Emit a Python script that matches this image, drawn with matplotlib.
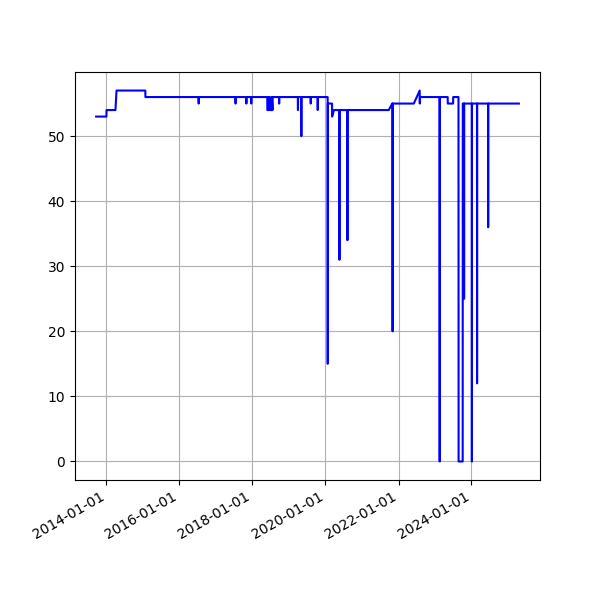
import matplotlib
matplotlib.use('Agg')
import matplotlib.pyplot as plt
import matplotlib.dates as mdates
import pandas as pd

# 日期与数值
dates = [
    '2013-09-20', '2014-01-01', '2014-01-02', '2014-04-01', '2014-04-12',
    '2015-01-25', '2015-01-26',
    '2016-07-11', '2016-07-12', '2016-07-13',
    '2017-07-15', '2017-07-16', '2017-07-17',
    '2017-10-31', '2017-11-01', '2017-11-02',
    '2017-12-19', '2017-12-20', '2017-12-21',
    '2018-05-29', '2018-05-30', '2018-06-10', '2018-06-11', '2018-06-25',
    '2018-06-26', '2018-07-14', '2018-07-15', '2018-07-20', '2018-07-21',
    '2018-09-24', '2018-09-25', '2018-09-26',
    '2019-03-31', '2019-04-01', '2019-04-02',
    '2019-05-04', '2019-05-05', '2019-05-06',
    '2019-08-06', '2019-08-07', '2019-08-08',
    '2019-10-15', '2019-10-16', '2019-10-17',
    '2020-01-23', '2020-01-24', '2020-01-25',
    '2020-03-07', '2020-03-08', '2020-03-26',
    '2020-05-19', '2020-05-20', '2020-05-21',
    '2020-08-07', '2020-08-08', '2020-08-09',
    '2021-09-25', '2021-10-30',
    '2021-11-02', '2021-11-03', '2021-11-04',
    '2022-06-03', '2022-08-01', '2022-08-02', '2022-08-03',
    '2023-02-16', '2023-02-17', '2023-02-18',
    '2023-05-08', '2023-05-09', '2023-07-01', '2023-07-02',
    '2023-08-24', '2023-08-25', '2023-10-05', '2023-10-06',
    '2023-10-18', '2023-10-19', '2023-10-20',
    '2024-01-04', '2024-01-05', '2024-01-06',
    '2024-02-25', '2024-02-26', '2024-02-27',
    '2024-06-15', '2024-06-16', '2024-06-17',
    '2025-04-19',
]
values = [
    53, 53, 54, 54, 57,
    57, 56,
    56, 55, 56,
    56, 55, 56,
    56, 55, 56,
    56, 55, 56,
    56, 54, 54, 56, 56,
    54, 54, 56, 54, 56,
    56, 55, 56,
    56, 54, 56,
    56, 50, 56,
    56, 55, 56,
    56, 54, 56,
    56, 15, 55,
    55, 53, 54,
    54, 31, 54,
    54, 34, 54,
    54, 55,
    55, 20, 55,
    55, 57, 55, 56,
    56, 0, 56,
    56, 55, 55, 56,
    56, 0, 0, 55,
    55, 25, 55,
    55, 0, 55,
    55, 12, 55,
    55, 36, 55,
    55,
]

x = pd.to_datetime(dates)

fig, ax = plt.subplots(figsize=(6, 6), dpi=100)
ax.plot(x, values, color='b')
ax.grid(True)

# 每两年一个刻度
ax.xaxis.set_major_locator(mdates.YearLocator(2))
ax.xaxis.set_major_formatter(mdates.DateFormatter('%Y-%m-%d'))
fig.autofmt_xdate()

fig.savefig('out.png')
